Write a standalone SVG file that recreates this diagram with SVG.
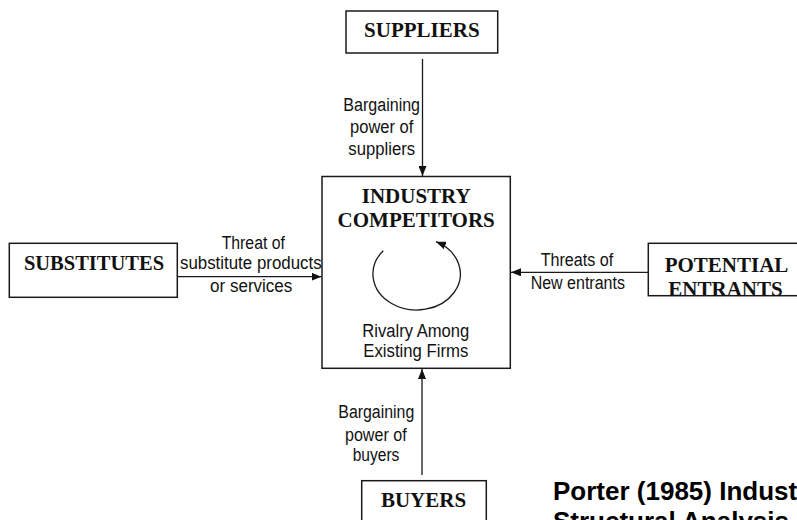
<svg xmlns="http://www.w3.org/2000/svg" width="797" height="520" viewBox="0 0 797 520">
<style>
.box{fill:#fff;stroke:#1a1a1a;stroke-width:1.5}
.ln{fill:none;stroke:#1a1a1a;stroke-width:1.3}
.t{font-family:"Liberation Serif","Times New Roman",serif;font-weight:bold;font-size:21px;text-anchor:middle;fill:#111}
.s{font-family:"Liberation Sans",Arial,sans-serif;font-size:18px;text-anchor:middle;fill:#111}
.p{font-family:"Liberation Sans",Arial,sans-serif;font-size:26px;font-weight:bold;fill:#000}
</style>
<defs>
<marker id="ah" viewBox="0 0 10 8" refX="10" refY="4" markerWidth="10" markerHeight="8" markerUnits="userSpaceOnUse" orient="auto">
<path d="M0,0 L10,4 L0,8 z" fill="#111"/>
</marker>
</defs>
<rect width="797" height="520" fill="#fff"/>
<g id="connectors">
<line class="ln" x1="422.5" y1="59" x2="422.5" y2="176" marker-end="url(#ah)"/>
<line class="ln" x1="422" y1="475" x2="422" y2="369" marker-end="url(#ah)"/>
<line class="ln" x1="177.3" y1="276.7" x2="321.5" y2="276.7" marker-end="url(#ah)"/>
<line class="ln" x1="648.3" y1="272.3" x2="511" y2="272.3" marker-end="url(#ah)"/>
</g>
<g id="suppliers">
<rect class="box" x="346" y="11" width="151.7" height="42"/>
<text class="t" x="421.8" y="37.3">SUPPLIERS</text>
</g>
<g id="industry-competitors">
<rect class="box" x="322" y="176.5" width="188.3" height="191.8"/>
<text class="t" x="416.2" y="202.7">INDUSTRY</text>
<text class="t" x="416.2" y="226.7">COMPETITORS</text>
<path class="ln" d="M383.3,250.7 A43.7,36 0 1 0 436,241.7" marker-end="url(#ah)"/>
<text class="s" x="415.8" y="336.7" textLength="107" lengthAdjust="spacingAndGlyphs">Rivalry Among</text>
<text class="s" x="415.8" y="356.7" textLength="105" lengthAdjust="spacingAndGlyphs">Existing Firms</text>
</g>
<g id="substitutes">
<rect class="box" x="9.3" y="243.3" width="168" height="54"/>
<text class="t" x="94" y="270" style="font-size:20.5px">SUBSTITUTES</text>
</g>
<g id="potential-entrants">
<rect class="box" x="648.3" y="243.3" width="160" height="52.4"/>
<text class="t" x="726.5" y="271.7">POTENTIAL</text>
<text class="t" x="725.5" y="295.7">ENTRANTS</text>
</g>
<g id="buyers">
<rect class="box" x="361.7" y="480.7" width="124.6" height="50"/>
<text class="t" x="423.5" y="506.7">BUYERS</text>
</g>
<g id="labels">
<text class="s" x="381.7" y="110.7" textLength="76.7" lengthAdjust="spacingAndGlyphs">Bargaining</text>
<text class="s" x="381.7" y="133.3" textLength="63.3" lengthAdjust="spacingAndGlyphs">power of</text>
<text class="s" x="381.7" y="155" textLength="66.7" lengthAdjust="spacingAndGlyphs">suppliers</text>
<text class="s" x="376.3" y="418.3" textLength="76" lengthAdjust="spacingAndGlyphs">Bargaining</text>
<text class="s" x="375.8" y="440.5" textLength="61.7" lengthAdjust="spacingAndGlyphs">power of</text>
<text class="s" x="376" y="460.5" textLength="46.7" lengthAdjust="spacingAndGlyphs">buyers</text>
<text class="s" x="253.3" y="249.3" textLength="63.3" lengthAdjust="spacingAndGlyphs">Threat of</text>
<text class="s" x="250.8" y="269.3" textLength="141.7" lengthAdjust="spacingAndGlyphs">substitute products</text>
<text class="s" x="251.2" y="292.2" textLength="82.3" lengthAdjust="spacingAndGlyphs">or services</text>
<text class="s" x="577" y="266" textLength="72.7" lengthAdjust="spacingAndGlyphs">Threats of</text>
<text class="s" x="577.8" y="289.3" textLength="94.3" lengthAdjust="spacingAndGlyphs">New entrants</text>
</g>
<g id="caption">
<text class="p" x="553" y="500">Porter (1985) Indust</text>
<text class="p" x="553" y="530">Structural Analysis</text>
</g>
</svg>
